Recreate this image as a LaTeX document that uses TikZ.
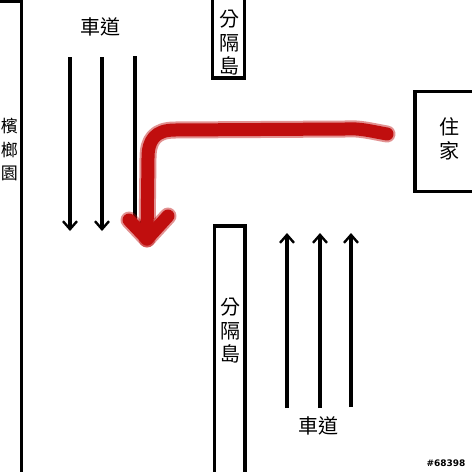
\documentclass[tikz,border=0pt]{standalone}
\usepackage{fontspec}
\newfontfamily\cjk{Noto Sans CJK TC}
\usetikzlibrary{arrows.meta}
\definecolor{route}{RGB}{192,14,14}
\tikzset{
  wall/.style={draw=black, line width=3.4pt},
  lane/.style={draw=black, line width=3.4pt, -{Straight Barb[length=8pt,width=14pt,line width=2.4pt]}},
  label/.style={font=\cjk\fontsize{20}{23.5}\selectfont, align=center, inner sep=0pt},
  routeglow/.style={draw=route, line width=17pt, opacity=0.45, line cap=round, line join=round},
  routecore/.style={draw=route, line width=13pt, line cap=round, line join=round}
}
\begin{document}
\begin{tikzpicture}[x=1pt,y=-1pt]
\useasboundingbox (0,0) rectangle (472,472);
\fill[white] (0,0) rectangle (472,472);
\begin{scope}
\clip (0,0) rectangle (472,472);
% boxes
\draw[wall] (-10,1.5) rectangle (21.5,490);
\draw[wall] (212.5,-10) rectangle (244.5,78);
\draw[wall] (415,91.5) rectangle (490,191.5);
\draw[wall] (214.5,226) rectangle (245,490);
\end{scope}
% labels
\node[label, font=\cjk\fontsize{17}{23.5}\selectfont] (garden) at (9.5,150) {檳\\榔\\園};
\node[label] (medtop) at (229.5,43) {分\\隔\\島};
\node[label] (medbot) at (230,331) {分\\隔\\島};
\node[label] (house) at (449,139) {住\\家};
\node[label] (roadtop) at (100,27) {車道};
\node[label] (roadbot) at (318,426) {車道};
% down lanes
\coordinate (d1s) at (70,57); \coordinate (d1e) at (70,231);
\coordinate (d2s) at (102,57); \coordinate (d2e) at (102,231);
\coordinate (d3s) at (135,56); \coordinate (d3e) at (135,231);
\draw[lane] (d1s) -- (d1e);
\draw[lane] (d2s) -- (d2e);
\draw[lane] (d3s) -- (d3e);
% up lanes
\coordinate (u1s) at (287,408); \coordinate (u1e) at (287,233);
\coordinate (u2s) at (320,408); \coordinate (u2e) at (320,233);
\coordinate (u3s) at (351,407); \coordinate (u3e) at (351,233);
\draw[lane] (u1s) -- (u1e);
\draw[lane] (u2s) -- (u2e);
\draw[lane] (u3s) -- (u3e);
% red route
\coordinate (r0) at (387,134);
\coordinate (r1) at (345,129);
\coordinate (r2) at (175,130);
\coordinate (r3) at (148,158);
\coordinate (r4) at (147,239);
\coordinate (hl) at (129,220);
\coordinate (hr) at (168,216);
\foreach \st in {routeglow,routecore}{
  \draw[\st] (r0) .. controls (370,131) and (360,128) .. (r1) -- (r2)
     .. controls (155,130) and (148,140) .. (r3) -- (r4);
  \draw[\st] (hl) -- (r4) -- (hr);
}
% watermark
\node[font=\fontspec{DejaVu Sans}\bfseries\fontsize{9}{9}\selectfont, inner sep=0pt, text=black] (wm) at (446,463) {\#68398};
\end{tikzpicture}
\end{document}
